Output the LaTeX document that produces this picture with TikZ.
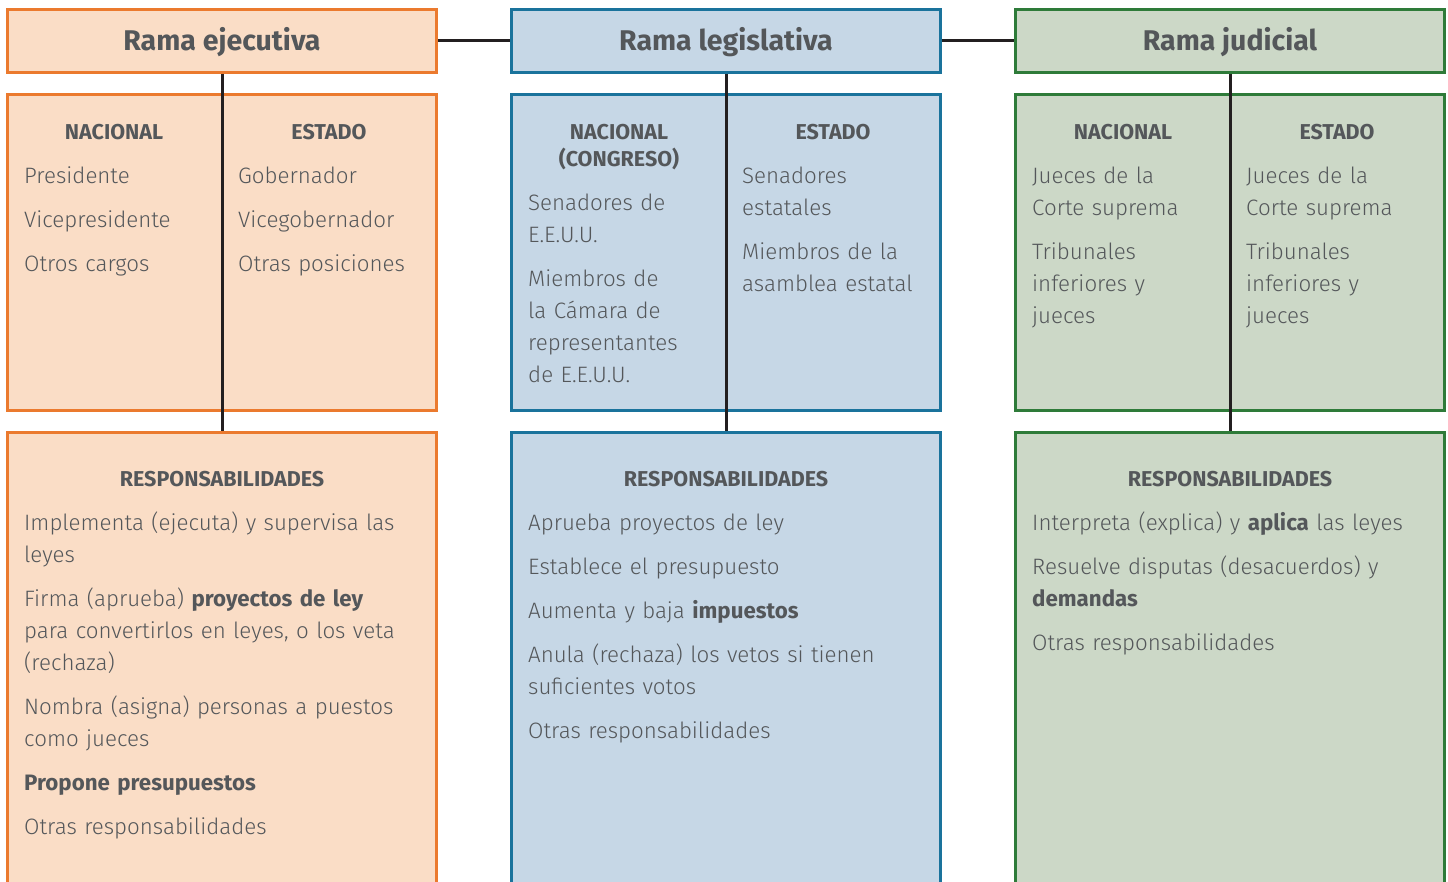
\documentclass[tikz,border=0pt]{standalone}
\usepackage{fontspec}
\setmainfont{Fira Sans}[UprightFont={* Light}, BoldFont={* Bold}]
\usetikzlibrary{positioning}

\definecolor{ejeBorde}{HTML}{EB7A2E}
\definecolor{ejeFondo}{HTML}{FADDC6}
\definecolor{legBorde}{HTML}{1A739C}
\definecolor{legFondo}{HTML}{C6D7E6}
\definecolor{judBorde}{HTML}{2E7B39}
\definecolor{judFondo}{HTML}{CCD8C7}
\definecolor{gris}{HTML}{54575A}
\definecolor{linea}{HTML}{231F20}

\tikzset{
  caja/.style={draw=#1Borde, fill=#1Fondo, line width=3pt, minimum width=429pt, inner sep=0pt},
  encabezado/.style={caja=#1, minimum height=63pt, text=gris,
    font=\fontsize{28.5}{32}\selectfont\bfseries, text height=20pt, text depth=0pt},
  niveles/.style={caja=#1, minimum height=316pt},
  deberes/.style={caja=#1, minimum height=500pt},
  conector/.style={draw=linea, line width=3pt},
  titulo/.style={font=\fontsize{21.5}{27}\selectfont\bfseries, text=gris,
    align=center, text width=#1, anchor=base, inner sep=0pt},
  titulo/.default=210pt,
  dato/.style={font=\fontsize{22.3}{32}\selectfont, text=gris,
    align=left, text width=#1, anchor=base west, inner sep=0pt},
  dato/.default=200pt
}

\begin{document}
\begin{tikzpicture}[x=1pt, y=-1pt]
  \clip (0,0) rectangle (1448,882);

  % ramas
  \node[encabezado=eje] (ejecutiva) at (222,41) {Rama ejecutiva};
  \node[encabezado=leg, right=72pt of ejecutiva] (legislativa) {Rama legislativa};
  \node[encabezado=jud, right=72pt of legislativa] (judicial) {Rama judicial};

  \node[niveles=eje, below=19pt of ejecutiva] (ejeNiveles) {};
  \node[niveles=leg, below=19pt of legislativa] (legNiveles) {};
  \node[niveles=jud, below=19pt of judicial] (judNiveles) {};

  \node[deberes=eje, below=19pt of ejeNiveles] (ejeResp) {};
  \node[deberes=leg, below=19pt of legNiveles] (legResp) {};
  \node[deberes=jud, below=19pt of judNiveles] (judResp) {};

  % conectores
  \draw[conector] (ejecutiva) -- (legislativa);
  \draw[conector] (legislativa) -- (judicial);
  \draw[conector] (ejecutiva.south) -- (ejeResp.north);
  \draw[conector] (legislativa.south) -- (legResp.north);
  \draw[conector] (judicial.south) -- (judResp.north);

  % rama ejecutiva
  \node[titulo] (ejeNacional) at (114,140) {NACIONAL};
  \node[titulo] (ejeEstado) at (329,140) {ESTADO};
  \node[dato] (ejeN1) at (24,184) {Presidente};
  \node[dato] (ejeN2) at (24,228) {Vicepresidente};
  \node[dato] (ejeN3) at (24,272) {Otros cargos};
  \node[dato] (ejeE1) at (238,184) {Gobernador};
  \node[dato] (ejeE2) at (238,228) {Vicegobernador};
  \node[dato] (ejeE3) at (238,272) {Otras posiciones};

  \node[titulo=400pt] (ejeTitResp) at (222,486) {RESPONSABILIDADES};
  \node[dato=410pt] (ejeR1) at (24,530) {Implementa (ejecuta) y supervisa las\\leyes};
  \node[dato=410pt] (ejeR2) at (24,606) {Firma (aprueba) \textbf{proyectos de ley}\\para convertirlos en leyes, o los veta\\(rechaza)};
  \node[dato=410pt] (ejeR3) at (24,714) {Nombra (asigna) personas a puestos\\como jueces};
  \node[dato=410pt] (ejeR4) at (24,790) {\textbf{Propone presupuestos}};
  \node[dato=410pt] (ejeR5) at (24,834) {Otras responsabilidades};

  % rama legislativa
  \node[titulo] (legNacional) at (619,140) {NACIONAL\\(CONGRESO)};
  \node[titulo] (legEstado) at (833,140) {ESTADO};
  \node[dato] (legN1) at (528,211) {Senadores de\\E.E.U.U.};
  \node[dato] (legN2) at (528,287) {Miembros de\\la Cámara de\\representantes\\de E.E.U.U.};
  \node[dato] (legE1) at (742,184) {Senadores\\estatales};
  \node[dato] (legE2) at (742,260) {Miembros de la\\asamblea estatal};

  \node[titulo=400pt] (legTitResp) at (726,486) {RESPONSABILIDADES};
  \node[dato=410pt] (legR1) at (528,530) {Aprueba proyectos de ley};
  \node[dato=410pt] (legR2) at (528,574) {Establece el presupuesto};
  \node[dato=410pt] (legR3) at (528,618) {Aumenta y baja \textbf{impuestos}};
  \node[dato=410pt] (legR4) at (528,662) {Anula (rechaza) los vetos si tienen\\suficientes votos};
  \node[dato=410pt] (legR5) at (528,738) {Otras responsabilidades};

  % rama judicial
  \node[titulo] (judNacional) at (1123,140) {NACIONAL};
  \node[titulo] (judEstado) at (1337,140) {ESTADO};
  \node[dato] (judN1) at (1032,184) {Jueces de la\\Corte suprema};
  \node[dato] (judN2) at (1032,260) {Tribunales\\inferiores y\\jueces};
  \node[dato] (judE1) at (1246,184) {Jueces de la\\Corte suprema};
  \node[dato] (judE2) at (1246,260) {Tribunales\\inferiores y\\jueces};

  \node[titulo=400pt] (judTitResp) at (1230,486) {RESPONSABILIDADES};
  \node[dato=410pt] (judR1) at (1032,530) {Interpreta (explica) y \textbf{aplica} las leyes};
  \node[dato=410pt] (judR2) at (1032,574) {Resuelve disputas (desacuerdos) y\\\textbf{demandas}};
  \node[dato=410pt] (judR3) at (1032,650) {Otras responsabilidades};
\end{tikzpicture}
\end{document}
